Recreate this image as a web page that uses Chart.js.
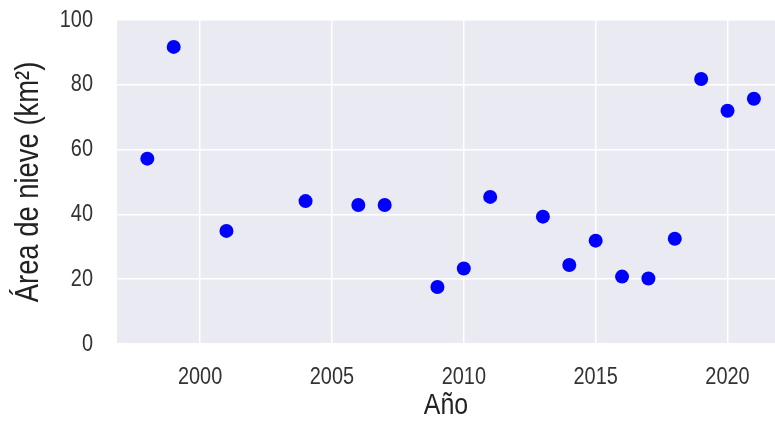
<!DOCTYPE html>
<html>
<head>
<meta charset="utf-8">
<script src="https://cdn.jsdelivr.net/npm/chart.js@4/dist/chart.umd.min.js"></script>
<style>
  html, body { margin: 0; padding: 0; background: #ffffff; overflow: hidden; }
  #wrap { width: 775px; height: 424px; }
</style>
</head>
<body>
<div id="wrap"><canvas id="chart" width="775" height="424"></canvas></div>
<script>
// Snow-covered area per year
const years = [1998, 1999, 2001, 2004, 2006, 2007, 2009, 2010, 2011, 2013, 2014, 2015, 2016, 2017, 2018, 2019, 2020, 2021];
const snowArea = [57.2, 91.7, 34.9, 44.1, 42.9, 42.9, 17.6, 23.3, 45.4, 39.3, 24.4, 31.9, 20.8, 20.2, 32.5, 81.8, 72.0, 75.7];

// Axis ticks
const xTicks = [2000, 2005, 2010, 2015, 2020];
const yTicks = [0, 20, 40, 60, 80, 100];

const FONT = "'Liberation Sans', Arial, sans-serif";
const TEXT_SQUEEZE = 0.83;   // narrow, tall lettering

const canvas = document.getElementById('chart');
const ctx2d = canvas.getContext('2d');

// Draw every label condensed along its own direction (works for rotated titles too)
const baseFillText = ctx2d.fillText.bind(ctx2d);
ctx2d.fillText = function (text, x, y, maxWidth) {
  this.save();
  this.translate(x, y);
  this.scale(TEXT_SQUEEZE, 1);
  baseFillText(text, 0, 0);
  this.restore();
};

// Light grey-blue panel behind the plot
const panelBackground = {
  id: 'panelBackground',
  beforeDraw(chart) {
    const { ctx, chartArea: a } = chart;
    ctx.save();
    ctx.fillStyle = '#EAEAF2';
    ctx.fillRect(a.left, a.top, a.right - a.left, a.bottom - a.top);
    ctx.restore();
  }
};

function noEdgePadding(scale) {
  scale.paddingTop = 0;
  scale.paddingBottom = 0;
  scale.paddingLeft = 0;
  scale.paddingRight = 0;
}

const points = years.map((y, i) => ({ x: y, y: snowArea[i] }));

new Chart(canvas, {
  type: 'scatter',
  data: {
    datasets: [{
      data: points,
      pointRadius: 7,
      pointHoverRadius: 7,
      pointBackgroundColor: '#0000FF',
      pointBorderWidth: 0
    }]
  },
  options: {
    responsive: false,
    animation: false,
    devicePixelRatio: 1,
    layout: { autoPadding: false, padding: { top: 20, right: 0, bottom: 0, left: 0 } },
    plugins: { legend: { display: false }, tooltip: { enabled: false } },
    scales: {
      x: {
        type: 'linear',
        min: 1996.85,
        max: 2021.8,
        afterBuildTicks(scale) { scale.ticks = xTicks.map(v => ({ value: v })); },
        afterFit(scale) { scale.height = 80; noEdgePadding(scale); },
        border: { display: false },
        grid: { color: '#FFFFFF', lineWidth: 1.5, drawTicks: false },
        ticks: {
          padding: 19,
          color: '#333333',
          font: { family: FONT, size: 24 },
          maxRotation: 0,
          callback: v => String(v)
        },
        title: {
          display: true,
          text: 'Año',
          color: '#222222',
          font: { family: FONT, size: 30 },
          padding: { top: 0, bottom: 0 }
        }
      },
      y: {
        min: 0,
        max: 100,
        afterBuildTicks(scale) { scale.ticks = yTicks.map(v => ({ value: v })); },
        afterFit(scale) { scale.width = 117; noEdgePadding(scale); },
        border: { display: false },
        grid: { color: '#FFFFFF', lineWidth: 1.5, drawTicks: false },
        ticks: {
          padding: 24,
          color: '#333333',
          font: { family: FONT, size: 24 },
          callback: v => String(v)
        },
        title: {
          display: true,
          text: 'Área de nieve (km²)',
          color: '#222222',
          font: { family: FONT, size: 33 },
          padding: { top: 9, bottom: 0 }
        }
      }
    }
  },
  plugins: [panelBackground]
});
</script>
</body>
</html>
